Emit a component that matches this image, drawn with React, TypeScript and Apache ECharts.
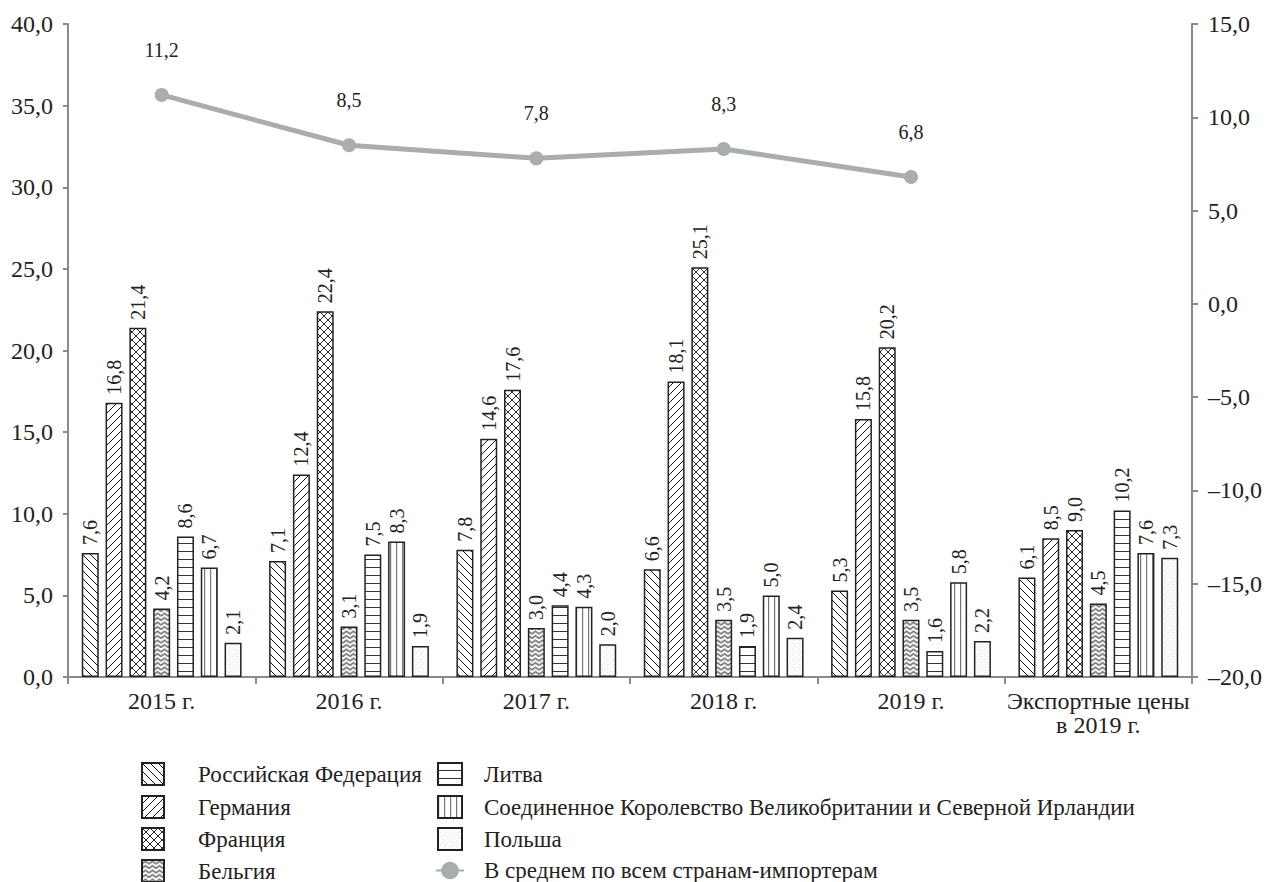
import React, { useEffect, useRef } from 'react';
import * as echarts from 'echarts';

const categories = ['2015 г.', '2016 г.', '2017 г.', '2018 г.', '2019 г.', 'Экспортные цены\nв 2019 г.'];
const seriesNames = [
  'Российская Федерация',
  'Германия',
  'Франция',
  'Бельгия',
  'Литва',
  'Соединенное Королевство Великобритании и Северной Ирландии',
  'Польша',
];
const lineName = 'В среднем по всем странам-импортерам';
const russia = [7.6, 7.1, 7.8, 6.6, 5.3, 6.1];
const germany = [16.8, 12.4, 14.6, 18.1, 15.8, 8.5];
const france = [21.4, 22.4, 17.6, 25.1, 20.2, 9.0];
const belgium = [4.2, 3.1, 3.0, 3.5, 3.5, 4.5];
const lithuania = [8.6, 7.5, 4.4, 1.9, 1.6, 10.2];
const uk = [6.7, 8.3, 4.3, 5.0, 5.8, 7.6];
const poland = [2.1, 1.9, 2.0, 2.4, 2.2, 7.3];
const average = [11.2, 8.5, 7.8, 8.3, 6.8, null];

const FONT = 'Liberation Serif';
const TEXT = '#222';
const AXIS = '#8a8a8a';
const LINE = '#a9adad';

function pat(content: string, w: number, h: number) {
  const svg = `<svg xmlns='http://www.w3.org/2000/svg' width='${w}' height='${h}'><rect width='${w}' height='${h}' fill='white'/>${content}</svg>`;
  return {
    image: 'data:image/svg+xml;charset=utf-8,' + encodeURIComponent(svg),
    repeat: 'repeat',
    imageWidth: w,
    imageHeight: h,
  };
}

const patterns = [
  pat("<path d='M-1,-1L9,9M-1,7L1,9M7,-1L9,1' stroke='#111' stroke-width='1' fill='none'/>", 8, 8),
  pat("<path d='M-1,9L9,-1M-1,1L1,-1M7,9L9,7' stroke='#111' stroke-width='1' fill='none'/>", 8, 8),
  pat(
    "<path d='M-1,-1L9,9M-1,7L1,9M7,-1L9,1M-1,9L9,-1M-1,1L1,-1M7,9L9,7' stroke='#111' stroke-width='0.9' fill='none'/>",
    8,
    8
  ),
  pat("<path d='M-1,4.6L3.5,1.4L8,4.6' stroke='#7d7d7d' stroke-width='1.8' fill='none'/>", 7, 4.5),
  pat("<path d='M0,7.5L8,7.5' stroke='#333' stroke-width='1' fill='none'/>", 8, 8),
  pat("<path d='M0.6,0L0.6,8' stroke='#777' stroke-width='1.2' fill='none'/>", 6, 8),
  pat(
    "<circle cx='1' cy='1' r='0.45' fill='#999'/><circle cx='4' cy='2.5' r='0.45' fill='#aaa'/><circle cx='2' cy='4.5' r='0.45' fill='#999'/><circle cx='5' cy='5.2' r='0.4' fill='#bbb'/>",
    6,
    6
  ),
];

const barData = [russia, germany, france, belgium, lithuania, uk, poland];

const fmt = (v: number) => v.toFixed(1).replace('.', ',');
const fmtSigned = (v: number) => (v < 0 ? '–' + fmt(-v) : fmt(v));

const legendRowTops = [762, 795, 827, 859];

export default function App() {
  const ref = useRef<HTMLDivElement>(null);
  useEffect(() => {
    const chart = echarts.init(ref.current!, null, { renderer: 'svg' });
    const barSeries = seriesNames.map((name, i) => ({
      name,
      type: 'bar',
      data: barData[i],
      barWidth: 17,
      barGap: '40%',
      itemStyle: { color: patterns[i], borderColor: '#222', borderWidth: 1.5 },
      label: {
        show: true,
        position: 'top',
        rotate: 90,
        align: 'left',
        verticalAlign: 'middle',
        distance: 8,
        fontFamily: FONT,
        fontSize: 20,
        color: TEXT,
        formatter: (p: any) => fmt(p.value),
      },
      emphasis: { disabled: true },
    }));

    const legendText = (pad: number) => ({
      fontFamily: FONT,
      fontSize: 23,
      lineHeight: 22,
      color: TEXT,
      padding: [0, 0, 0, pad],
    });
    const legends: any[] = [];
    seriesNames.slice(0, 4).forEach((n, i) => {
      legends.push({
        left: 141,
        top: legendRowTops[i],
        padding: 0,
        itemWidth: 22,
        itemHeight: 22,
        selectedMode: false,
        data: [{ name: n, icon: 'rect' }],
        textStyle: legendText(29),
      });
    });
    seriesNames.slice(4).forEach((n, i) => {
      legends.push({
        left: 437,
        top: legendRowTops[i],
        padding: 0,
        itemWidth: 24,
        itemHeight: 22,
        selectedMode: false,
        data: [{ name: n, icon: 'rect' }],
        textStyle: legendText(17),
      });
    });
    legends.push({
      left: 435,
      top: legendRowTops[3],
      padding: 0,
      itemWidth: 28,
      itemHeight: 22,
      selectedMode: false,
      data: [{ name: lineName }],
      textStyle: legendText(15),
    });

    const option = {
      animation: false,
      backgroundColor: '#fff',
      textStyle: { fontFamily: FONT },
      grid: { left: 68, right: 82, top: 24, bottom: 205 },
      xAxis: {
        type: 'category',
        data: categories,
        boundaryGap: true,
        axisLine: { lineStyle: { color: AXIS, width: 2 } },
        axisTick: { show: true, length: 7, lineStyle: { color: AXIS, width: 2 } },
        axisLabel: { fontFamily: FONT, fontSize: 24, color: TEXT, margin: 12, lineHeight: 24, interval: 0 },
      },
      yAxis: [
        {
          type: 'value',
          min: 0,
          max: 40,
          interval: 5,
          axisLine: { show: true, lineStyle: { color: AXIS, width: 2 } },
          axisTick: { show: true, length: 5, lineStyle: { color: AXIS, width: 2 } },
          splitLine: { show: false },
          axisLabel: { fontFamily: FONT, fontSize: 24, color: TEXT, margin: 15, formatter: (v: number) => fmt(v) },
        },
        {
          type: 'value',
          min: -20,
          max: 15,
          interval: 5,
          position: 'right',
          axisLine: { show: true, lineStyle: { color: AXIS, width: 2 } },
          axisTick: { show: true, length: 6, lineStyle: { color: AXIS, width: 2 } },
          splitLine: { show: false },
          axisLabel: { fontFamily: FONT, fontSize: 24, color: TEXT, margin: 16, formatter: (v: number) => fmtSigned(v) },
        },
      ],
      legend: legends,
      series: [
        ...barSeries,
        {
          name: lineName,
          type: 'line',
          yAxisIndex: 1,
          data: average,
          z: 5,
          symbol: 'circle',
          symbolSize: 14,
          itemStyle: { color: LINE },
          lineStyle: { color: LINE, width: 5 },
          label: {
            show: true,
            position: 'top',
            distance: 28,
            fontFamily: FONT,
            fontSize: 20,
            color: TEXT,
            formatter: (p: any) => fmt(p.value),
          },
          emphasis: { disabled: true },
        },
      ],
    };
    chart.setOption(option as any);
    return () => chart.dispose();
  }, []);
  return (
    <div
      ref={ref}
      style={{ position: 'absolute', left: 0, top: 0, width: 1274, height: 882, background: '#fff' }}
    />
  );
}
